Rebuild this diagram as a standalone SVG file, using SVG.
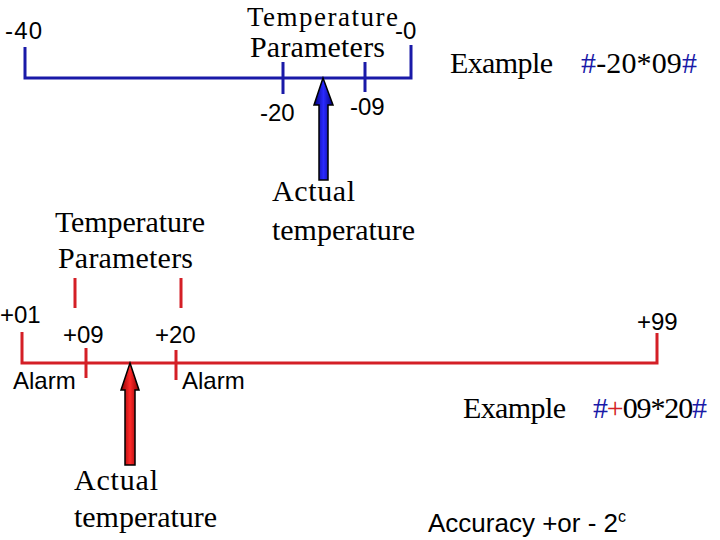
<svg xmlns="http://www.w3.org/2000/svg" width="720" height="540" viewBox="0 0 720 540">
<style>
.num{font-family:"Liberation Sans",Arial,sans-serif;font-size:24px;fill:#000}
.ser{font-family:"Liberation Serif","Times New Roman",serif;font-size:30px;fill:#000}
.blue{stroke:#1a1aa8;stroke-width:3;fill:none}
.red{stroke:#d41f26;stroke-width:3;fill:none}
</style>
<defs>
<linearGradient id="gb" x1="0" x2="1" y1="0" y2="0"><stop offset="0" stop-color="#00007a"/><stop offset="0.5" stop-color="#2a2aff"/><stop offset="1" stop-color="#00007a"/></linearGradient>
<linearGradient id="gr" x1="0" x2="1" y1="0" y2="0"><stop offset="0" stop-color="#8a0000"/><stop offset="0.5" stop-color="#ff2a2a"/><stop offset="1" stop-color="#8a0000"/></linearGradient>
</defs>
<rect width="720" height="540" fill="#fff"/>
<g id="connectors">
<path class="blue" d="M25 47 V78 H411 V45"/>
<path class="blue" d="M283 62 V94 M365 62 V92"/>
<path class="red" d="M22 332 V363 H657 V333"/>
<path class="red" d="M86 348 V378 M176 350 V380 M75 278 V308 M181 278 V308"/>
<path d="M323 78 L333 105 L328 105 L328 180 L319 180 L319 105 L314 105 Z" fill="url(#gb)" stroke="#000" stroke-width="1.5"/>
<path d="M130 363 L139 390 L135 390 L135 465 L125 465 L125 390 L121 390 Z" fill="url(#gr)" stroke="#000" stroke-width="1.5"/>
</g>
<g id="top-scale">
<text class="num" x="5" y="39" textLength="37">-40</text>
<text class="num" x="395" y="39">-0</text>
<text class="num" x="260" y="121">-20</text>
<text class="num" x="350" y="115">-09</text>
<text class="ser" x="247" y="26" textLength="151" style="font-size:27px">Temperature</text>
<text class="ser" x="250" y="57" textLength="135">Parameters</text>
<text class="ser" x="450" y="73" textLength="103">Example</text>
<text class="ser" x="581" y="73" textLength="116"><tspan fill="#1a1aa8">#</tspan>-20*09<tspan fill="#1a1aa8">#</tspan></text>
<text class="ser" x="272" y="201" textLength="83">Actual</text>
<text class="ser" x="272" y="240" textLength="143">temperature</text>
</g>
<g id="bottom-scale">
<text class="num" x="0" y="323">+01</text>
<text class="num" x="63" y="343">+09</text>
<text class="num" x="155" y="343">+20</text>
<text class="num" x="637" y="330">+99</text>
<text class="num" x="13" y="389">Alarm</text>
<text class="num" x="182" y="389">Alarm</text>
<text class="ser" x="55" y="232" textLength="150">Temperature</text>
<text class="ser" x="58" y="268" textLength="135">Parameters</text>
<text class="ser" x="463" y="418" textLength="103">Example</text>
<text class="ser" x="593" y="418" textLength="114"><tspan fill="#1a1aa8">#</tspan><tspan fill="#d41f26">+</tspan>09*20<tspan fill="#1a1aa8">#</tspan></text>
<text class="ser" x="74" y="490" textLength="84">Actual</text>
<text class="ser" x="74" y="527" textLength="143">temperature</text>
<text x="428" y="532" style="font-family:'Liberation Sans',Arial,sans-serif;font-size:26px">Accuracy +or - 2<tspan dy="-10" font-size="16">c</tspan></text>
</g>
</svg>
